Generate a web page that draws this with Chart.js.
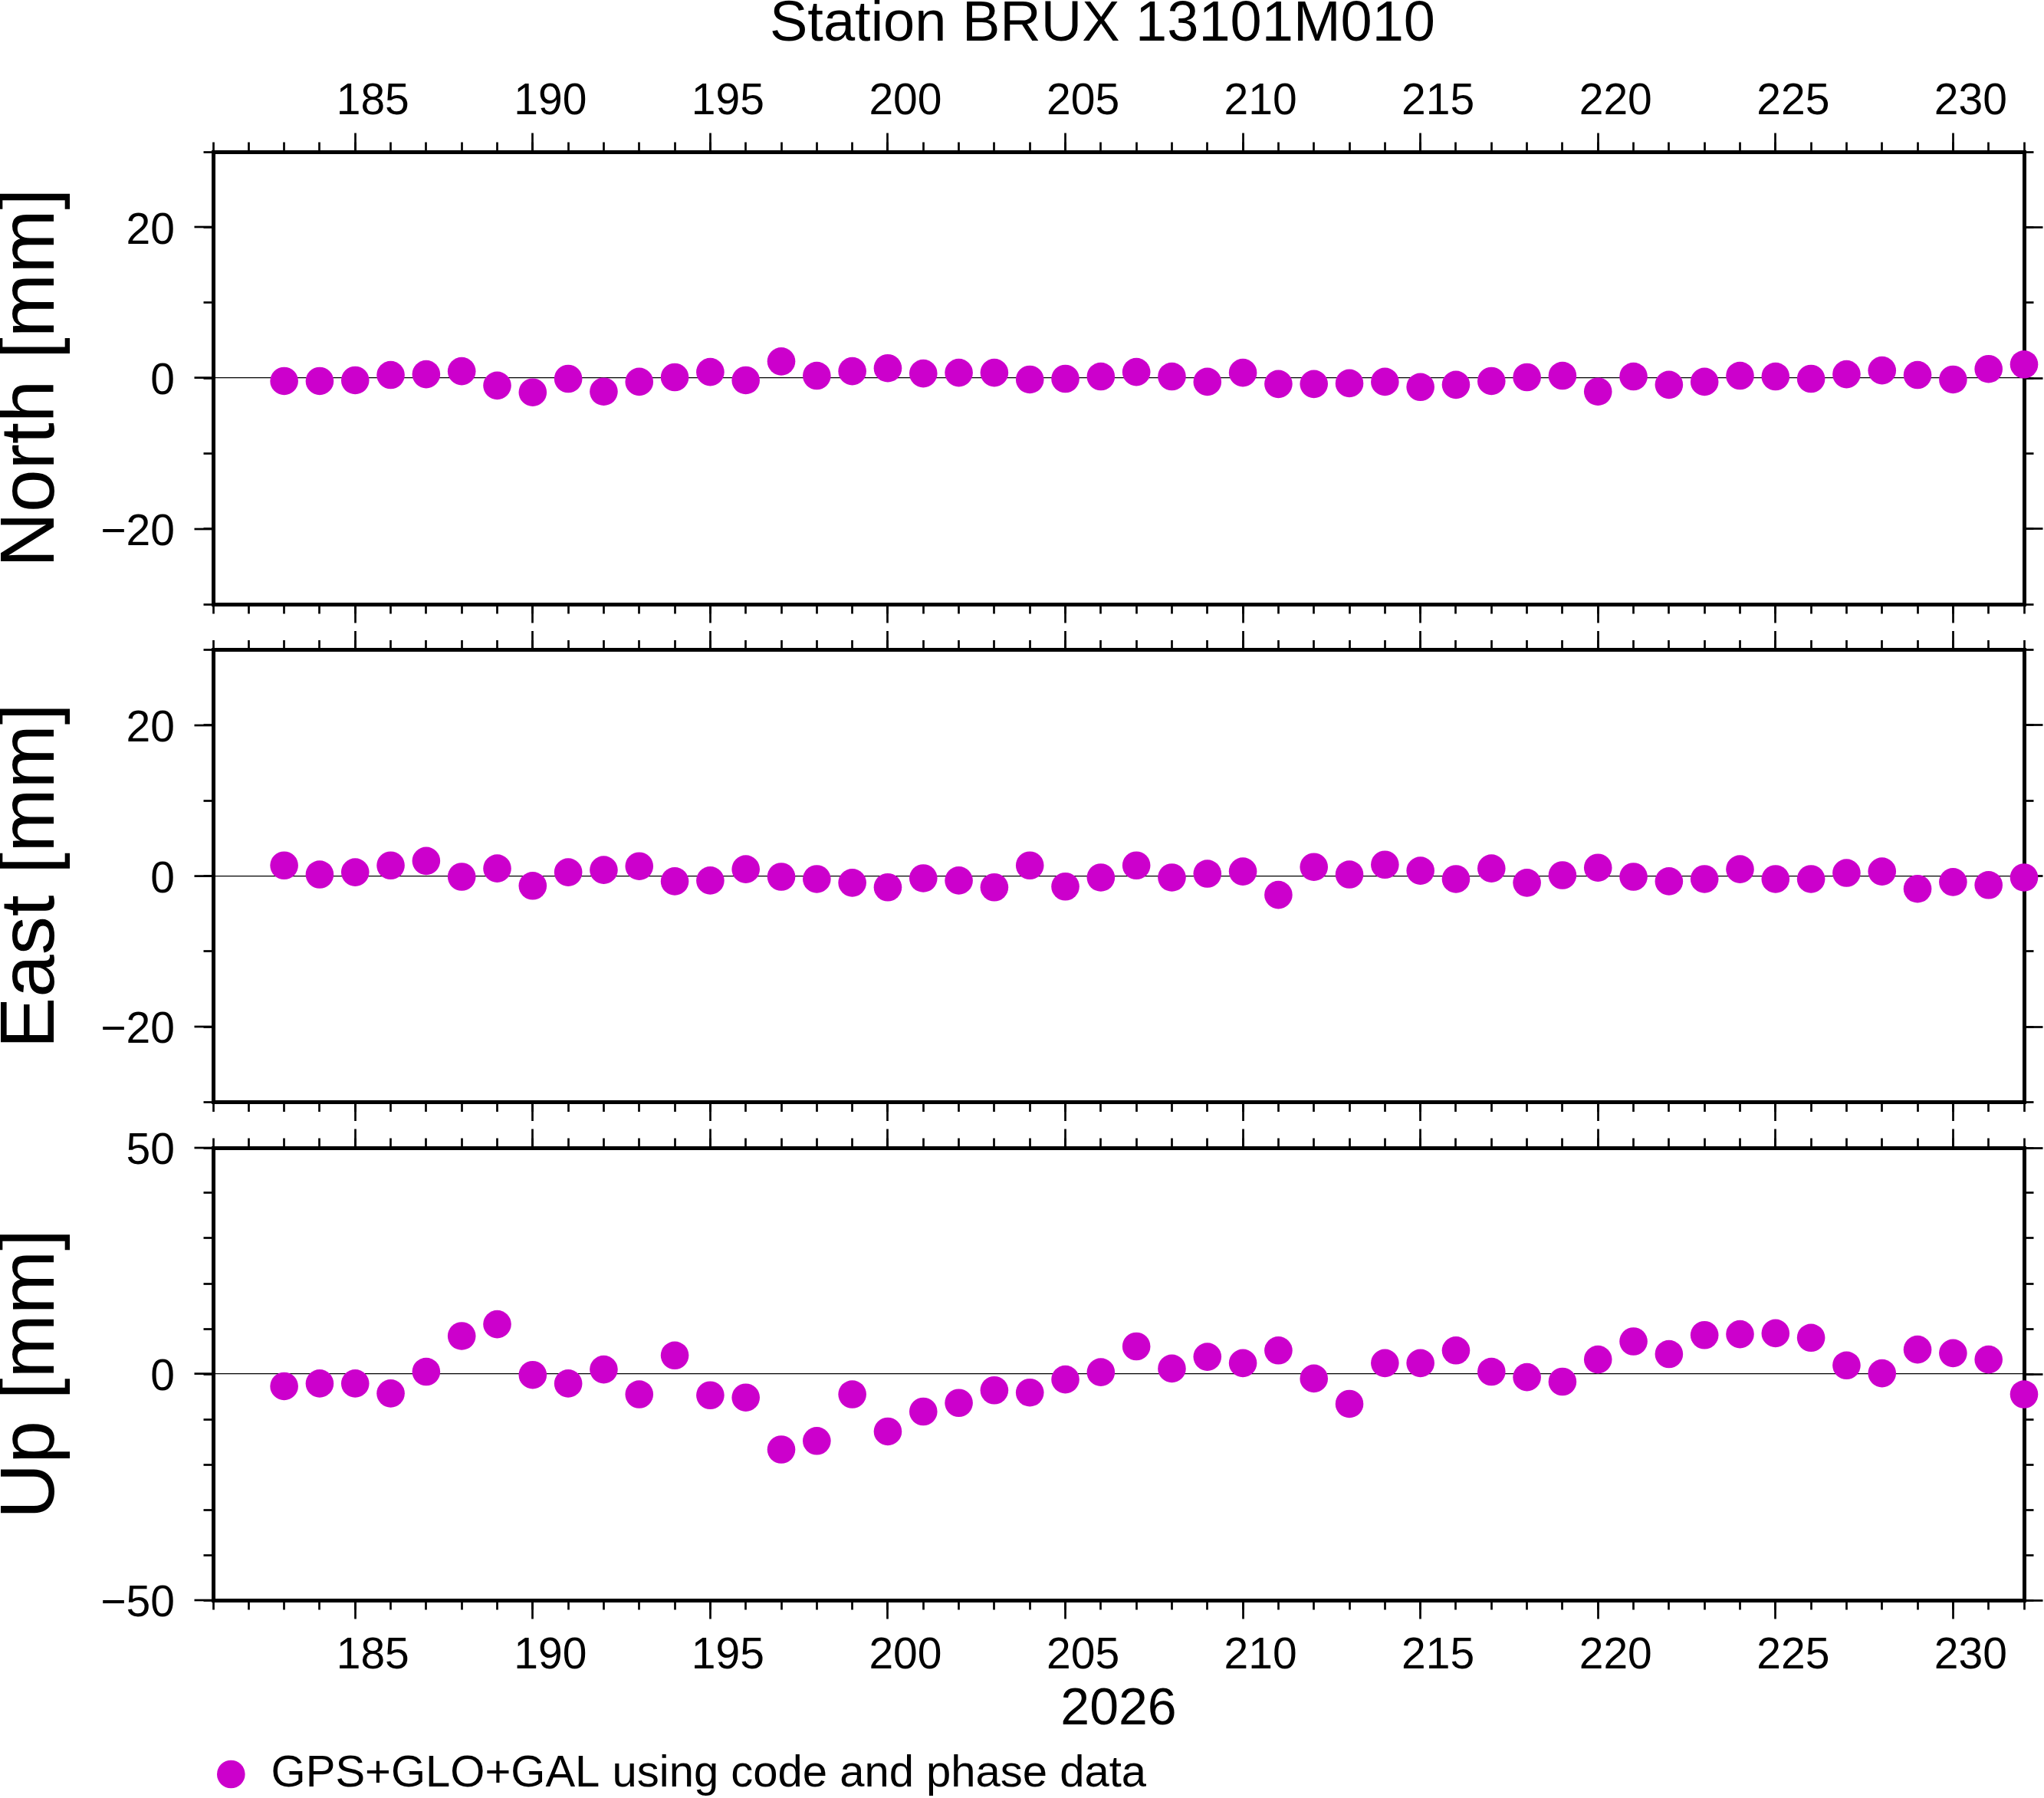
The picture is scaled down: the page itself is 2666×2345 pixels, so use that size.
<!DOCTYPE html>
<html>
<head>
<meta charset="utf-8">
<title>Station BRUX 13101M010</title>
<script src="https://cdn.jsdelivr.net/npm/chart.js@4.4.1/dist/chart.umd.min.js"></script>
<style>
  html, body { margin: 0; padding: 0; background: #fff; overflow: hidden; width: 2666px; height: 2345px; }
  canvas { position: absolute; left: 0; }
</style>
</head>
<body>
<canvas id="northCanvas" width="2666" height="818" style="top:0px"></canvas>
<canvas id="eastCanvas" width="2666" height="650" style="top:818px"></canvas>
<canvas id="upCanvas" width="2666" height="885" style="top:1468px"></canvas>
<script>
// day of year (2026) and daily coordinate residuals in mm
const days = [183, 184, 185, 186, 187, 188, 189, 190, 191, 192, 193, 194, 195, 196, 197, 198, 199,
  200, 201, 202, 203, 204, 205, 206, 207, 208, 209, 210, 211, 212, 213, 214, 215, 216, 217, 218,
  219, 220, 221, 222, 223, 224, 225, 226, 227, 228, 229, 230, 231, 232];

const north = [-0.4, -0.4, -0.3, 0.4, 0.5, 0.9, -1.0, -1.9, -0.1, -1.8, -0.5, 0.1, 0.8, -0.3, 2.2,
  0.3, 0.9, 1.3, 0.6, 0.7, 0.7, -0.2, -0.1, 0.2, 0.8, 0.2, -0.5, 0.7, -0.8, -0.8, -0.7, -0.5, -1.2,
  -0.9, -0.4, 0.1, 0.3, -1.8, 0.2, -0.9, -0.5, 0.3, 0.2, -0.1, 0.5, 1.0, 0.4, -0.2, 1.2, 1.8];

const east = [1.4, 0.2, 0.5, 1.4, 2.0, -0.1, 1.0, -1.3, 0.5, 0.8, 1.3, -0.7, -0.6, 0.9, -0.1,
  -0.4, -0.9, -1.5, -0.3, -0.6, -1.5, 1.4, -1.4, -0.2, 1.4, -0.2, 0.3, 0.6, -2.5, 1.2, 0.2, 1.5, 0.7,
  -0.4, 1.0, -0.9, 0.1, 1.1, -0.1, -0.7, -0.4, 0.9, -0.4, -0.4, 0.4, 0.6, -1.7, -0.8, -1.2, -0.2];

const up = [-2.7, -2.1, -2.1, -4.3, 0.5, 8.4, 11.0, -0.2, -2.1, 1.0, -4.5, 4.1, -4.7, -5.2, -16.7,
  -14.8, -4.5, -12.7, -8.3, -6.4, -3.6, -4.1, -1.2, 0.4, 6.1, 1.2, 3.8, 2.4, 5.2, -1.0, -6.6, 2.4, 2.4,
  5.2, 0.5, -0.7, -1.7, 3.2, 7.2, 4.4, 8.6, 8.8, 9.0, 8.0, 1.9, 0.15, 5.4, 4.6, 3.2, -4.5];

const dayTicks = [185, 190, 195, 200, 205, 210, 215, 220, 225, 230];
const horizTicks = [-20, 0, 20];
const upTicks = [-50, 0, 50];

const stationTitle = 'Station BRUX 13101M010';
const seriesLabel = 'GPS+GLO+GAL using code and phase data';
const yearLabel = '2026';

const DOT = '#cc00cc';
Chart.defaults.font.family = "'Liberation Sans', Arial, Helvetica, sans-serif";
Chart.defaults.color = '#000';

// force an axis to a fixed thickness so the three frames line up
function fixSize(px) {
  return function (scale) {
    if (scale.isHorizontal()) scale.height = px; else scale.width = px;
    scale.paddingLeft = scale.paddingRight = scale.paddingTop = scale.paddingBottom = 0;
  };
}

function useTicks(values) {
  return function (scale) {
    scale.ticks = values.map(v => ({ value: v }));
  };
}

function minus(v) {
  return String(v).replace('-', '\u2212');
}

function xAxis(position, major, size, labels) {
  return {
    type: 'linear', axis: 'x', position: position, weight: major ? 1 : 0,
    min: 181, max: 232, bounds: 'data',
    afterBuildTicks: major ? useTicks(dayTicks) : undefined,
    afterFit: fixSize(size),
    border: { display: major, width: 5, color: '#000' },
    grid: { drawOnChartArea: false, lineWidth: 5, tickLength: major ? 24.5 : 12.5, tickWidth: 2.7, tickColor: '#000' },
    ticks: {
      display: !!labels, stepSize: major ? undefined : 1, autoSkip: false, maxRotation: 0, minRotation: 0,
      padding: position === 'top' ? 5.8 : 15, labelOffset: 23, font: { size: 57 }
    },
    title: {
      display: position === 'bottom' && !!labels, text: yearLabel,
      font: { size: 68 }, padding: { top: 0, bottom: 14 }
    }
  };
}

function yAxis(position, major, size, p) {
  const left = position === 'left';
  const grid = { drawOnChartArea: false, lineWidth: 5, tickLength: major ? 24.5 : 12.5, tickWidth: 2.7, tickColor: '#000' };
  if (major && left) {
    // zero line across the frame
    grid.drawOnChartArea = true;
    grid.color = c => (c.tick && c.tick.value === 0) ? '#000' : 'rgba(0,0,0,0)';
    grid.lineWidth = c => (c.tick && c.tick.value === 0) ? 1.2 : 0;
  }
  return {
    type: 'linear', axis: 'y', position: position, weight: major ? 1 : 0,
    min: p.range[0], max: p.range[1], bounds: 'data',
    afterBuildTicks: major ? useTicks(p.labelTicks) : undefined,
    afterFit: fixSize(size),
    border: { display: major, width: 5, color: '#000' },
    grid: grid,
    ticks: {
      display: major && left, stepSize: major ? undefined : 10,
      padding: 25.5, labelOffset: 5.6, font: { size: 57 },
      callback: v => minus(v)
    },
    title: {
      display: major && left, text: p.title,
      font: { size: 100, lineHeight: 0.84 }, padding: 0
    }
  };
}

function buildPanel(canvasId, values, p) {
  const ctx = document.getElementById(canvasId).getContext('2d');
  return new Chart(ctx, {
    type: 'scatter',
    data: {
      datasets: [{
        label: seriesLabel,
        data: days.map((d, i) => ({ x: d, y: values[i] })),
        backgroundColor: DOT,
        borderWidth: 0,
        pointRadius: 18.3,
        pointStyle: 'circle',
        xAxisID: 'x',
        yAxisID: 'y',
        clip: false
      }]
    },
    options: {
      responsive: false,
      maintainAspectRatio: false,
      devicePixelRatio: 1,
      animation: false,
      events: [],
      layout: { padding: { left: 0, top: 0, bottom: 0, right: p.padRight || 0 } },
      scales: {
        x: xAxis('bottom', true, p.bottomSize, p.bottomLabels),
        xMinor: xAxis('bottom', false, 0, false),
        xTop: xAxis('top', true, p.topSize, p.topLabels),
        xTopMinor: xAxis('top', false, 0, false),
        y: yAxis('left', true, 278, p),
        yMinor: yAxis('left', false, 0, p),
        yRight: yAxis('right', true, p.rightSize, p),
        yRightMinor: yAxis('right', false, 0, p)
      },
      plugins: {
        title: {
          display: !!p.showTitle, text: stationTitle, fullSize: true,
          font: { size: 74, lineHeight: 0.8, weight: 'normal' },
          padding: { top: 3.4, bottom: 0 }, color: '#000'
        },
        legend: {
          display: !!p.showLegend, position: 'bottom', align: 'start', fullSize: false,
          labels: {
            usePointStyle: true, boxWidth: 46.6, boxHeight: 25.9, padding: 0,
            font: { size: 58 }, color: '#000'
          }
        },
        tooltip: { enabled: false }
      }
    }
  });
}

buildPanel('northCanvas', north, {
  range: [-30, 30], labelTicks: horizTicks, title: 'North [mm]',
  topSize: 135.4, bottomSize: 30, rightSize: 236, padRight: -210,
  topLabels: true, bottomLabels: false, showTitle: true
});

buildPanel('eastCanvas', east, {
  range: [-30, 30], labelTicks: horizTicks, title: 'East [mm]',
  topSize: 29.5, bottomSize: 30.5, rightSize: 26,
  topLabels: false, bottomLabels: false
});

buildPanel('upCanvas', up, {
  range: [-50, 50], labelTicks: upTicks, title: 'Up [mm]',
  topSize: 29, bottomSize: 198, rightSize: 26,
  topLabels: false, bottomLabels: true, showLegend: true
});
</script>
</body>
</html>
